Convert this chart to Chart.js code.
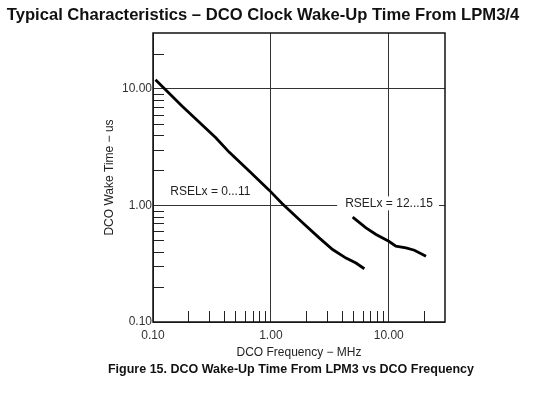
<!DOCTYPE html>
<html>
<head>
<meta charset="utf-8">
<script src="https://cdn.jsdelivr.net/npm/chart.js@4.4.0/dist/chart.umd.min.js"></script>
<style>
  html, body { margin: 0; padding: 0; background: #fff; }
  #wrap { width: 550px; height: 398px; }
</style>
</head>
<body>
<div id="wrap"><canvas id="chart" width="550" height="398"></canvas></div>
<script>
// curve data (MHz -> us)
const rsel0Freq = [0.105, 0.177, 0.341, 0.442, 0.654, 0.967, 1.25, 1.86, 2.57, 3.34, 4.34, 5.27, 6.21];
const rsel0Time = [11.9, 7.08, 3.8, 2.86, 1.97, 1.35, 1.03, 0.708, 0.526, 0.418, 0.353, 0.32, 0.286];
const rsel12Freq = [4.94, 6.41, 7.8, 10.0, 11.5, 14.0, 16.5, 20.7];
const rsel12Time = [0.793, 0.641, 0.562, 0.492, 0.446, 0.431, 0.412, 0.366];

// axes
const xTicks = [0.1, 1, 10];
const yTicks = [0.1, 1, 10];
const xMinor = [0.2, 0.3, 0.4, 0.5, 0.6, 0.7, 0.8, 0.9, 2, 3, 4, 5, 6, 7, 8, 9, 20];
const yMinor = [0.2, 0.3, 0.4, 0.5, 0.6, 0.7, 0.8, 0.9, 2, 3, 4, 5, 6, 7, 8, 9, 20];

// curve labels (placed in data units)
const noteText = ["RSELx = 0...11", "RSELx = 12...15"];
const noteX = [0.14, 4.27];
const noteY = [1.32, 1.04];

const FONT = "'Liberation Sans', Arial, sans-serif";

function toPoints(xs, ys) {
  return xs.map((x, i) => ({ x: x, y: ys[i] }));
}

// frame, minor ticks, labels, titles
const extras = {
  id: "extras",
  afterDatasetsDraw(chart) {
    const { ctx, chartArea: a, scales } = chart;
    const xs = scales.x, ys = scales.y;
    ctx.save();
    // minor ticks pointing inward
    ctx.strokeStyle = "#222";
    ctx.lineWidth = 1;
    ctx.beginPath();
    xMinor.forEach((v) => {
      const px = Math.round(xs.getPixelForValue(v)) + 0.5;
      ctx.moveTo(px, a.bottom);
      ctx.lineTo(px, a.bottom - 11);
    });
    yMinor.forEach((v) => {
      const py = Math.round(ys.getPixelForValue(v)) + 0.5;
      ctx.moveTo(a.left, py);
      ctx.lineTo(a.left + 11, py);
    });
    ctx.stroke();
    // frame
    ctx.strokeStyle = "#111";
    ctx.lineWidth = 1.5;
    ctx.strokeRect(a.left, a.top, a.right - a.left, a.bottom - a.top);

    // curve labels, with a white box behind
    ctx.font = "12px " + FONT;
    ctx.textBaseline = "middle";
    ctx.textAlign = "left";
    noteText.forEach((t, i) => {
      const px = xs.getPixelForValue(noteX[i]);
      const py = ys.getPixelForValue(noteY[i]);
      const w = ctx.measureText(t).width;
      ctx.fillStyle = "#fff";
      ctx.fillRect(px - 8, py - 7, w + 14, 14);
      ctx.fillStyle = "#222";
      ctx.fillText(t, px, py);
    });

    // heading and caption
    ctx.fillStyle = "#111";
    ctx.textAlign = "center";
    ctx.font = "bold 16.6px " + FONT;
    ctx.fillText("Typical Characteristics \u2013 DCO Clock Wake-Up Time From LPM3/4", 263, 15);
    ctx.font = "bold 12.5px " + FONT;
    ctx.fillText("Figure 15. DCO Wake-Up Time From LPM3 vs DCO Frequency", 291, 370);
    ctx.restore();
  },
};

new Chart(document.getElementById("chart"), {
  type: "scatter",
  data: {
    datasets: [
      {
        label: "RSELx = 0...11",
        data: toPoints(rsel0Freq, rsel0Time),
        showLine: true,
        borderColor: "#000",
        borderWidth: 2.8,
        pointRadius: 0,
        tension: 0,
      },
      {
        label: "RSELx = 12...15",
        data: toPoints(rsel12Freq, rsel12Time),
        showLine: true,
        borderColor: "#000",
        borderWidth: 2.8,
        pointRadius: 0,
        tension: 0,
      },
    ],
  },
  options: {
    responsive: false,
    devicePixelRatio: 1,
    animation: false,
    layout: { padding: { top: 33, right: 105, left: 0, bottom: 36 } },
    plugins: { legend: { display: false }, tooltip: { enabled: false } },
    scales: {
      x: {
        type: "logarithmic",
        min: 0.1,
        max: 30,
        afterBuildTicks: (s) => { s.ticks = xTicks.map((v) => ({ value: v })); },
        afterFit: (s) => { s.height = 40; },
        ticks: {
          callback: (v) => Number(v).toFixed(2),
          autoSkip: false,
          maxRotation: 0,
          padding: 6,
          color: "#333",
          font: { family: FONT, size: 12 },
        },
        grid: { color: "#333", lineWidth: 1, drawTicks: false },
        border: { display: false },
        title: {
          display: true,
          text: "DCO Frequency \u2212 MHz",
          color: "#222",
          font: { family: FONT, size: 12 },
          padding: { top: 0, bottom: 2 },
        },
      },
      y: {
        type: "logarithmic",
        min: 0.1,
        max: 30,
        afterBuildTicks: (s) => { s.ticks = yTicks.map((v) => ({ value: v })); },
        afterFit: (s) => { s.width = 153; },
        ticks: {
          callback: (v) => Number(v).toFixed(2),
          autoSkip: false,
          padding: 1,
          color: "#333",
          font: { family: FONT, size: 12 },
        },
        grid: { color: "#333", lineWidth: 1, drawTicks: false },
        border: { display: false },
        title: {
          display: true,
          text: "DCO Wake Time \u2212 us",
          color: "#222",
          font: { family: FONT, size: 12 },
          padding: { top: 102, bottom: 0 },
        },
      },
    },
  },
  plugins: [extras],
});
</script>
</body>
</html>
